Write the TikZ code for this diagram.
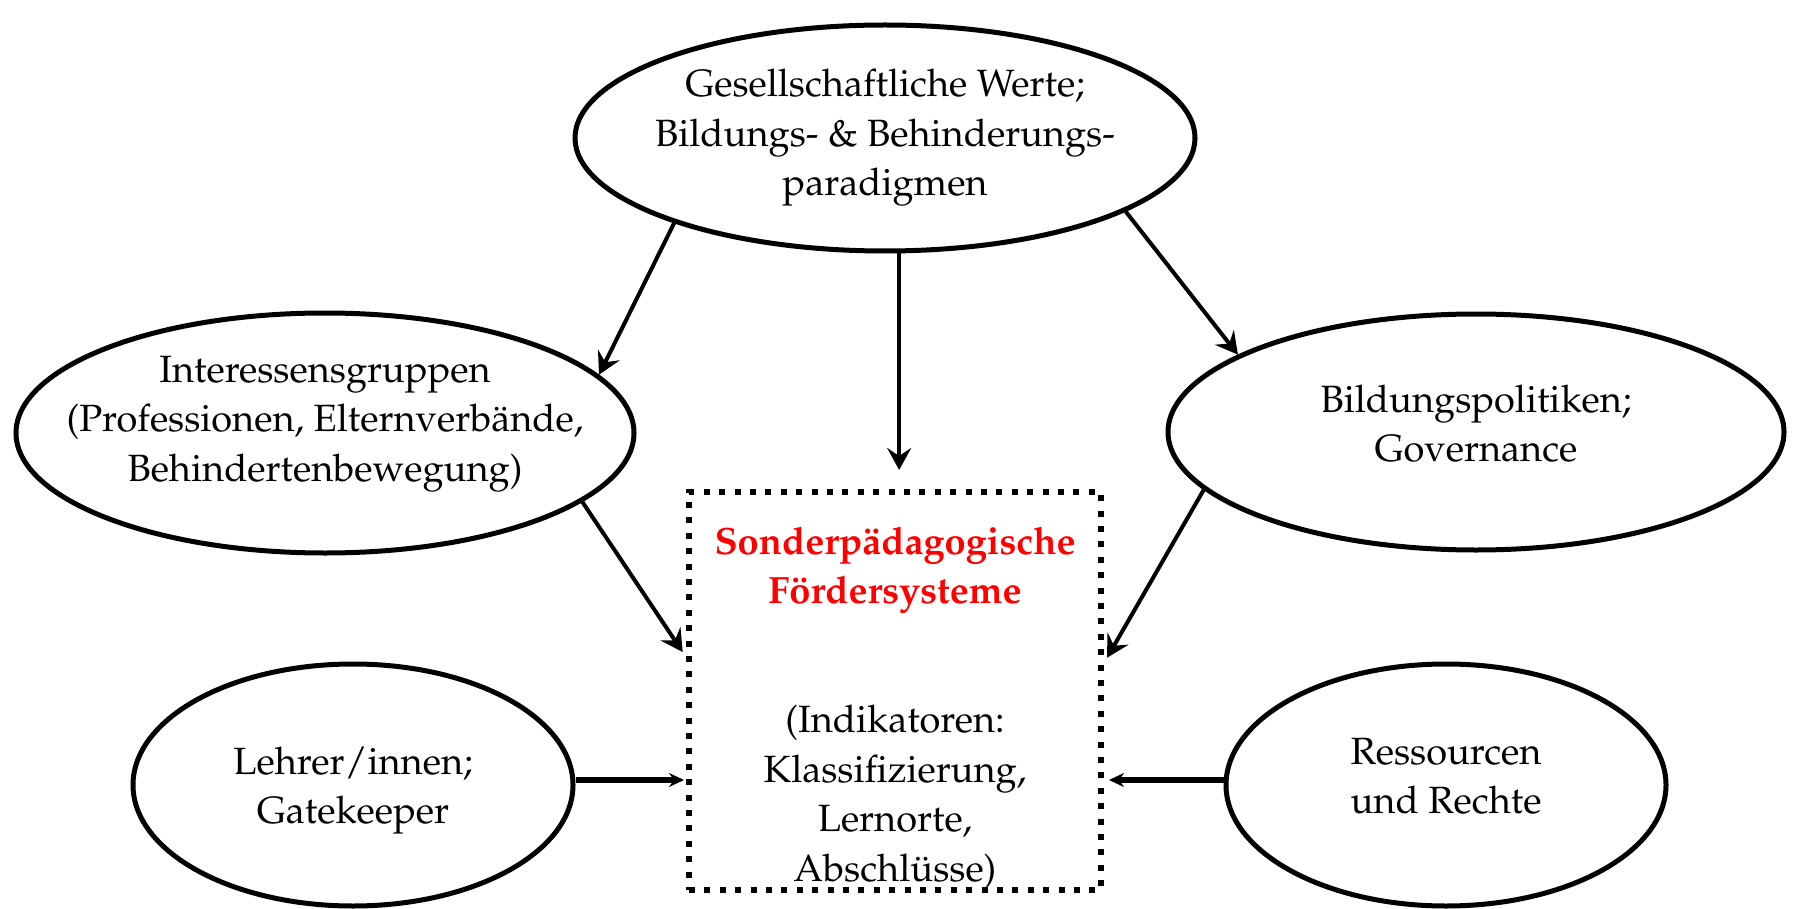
\documentclass[tikz,border=0pt]{standalone}
\usepackage[T1]{fontenc}
\usepackage{mathpazo}
\usetikzlibrary{shapes.geometric, arrows.meta}

\begin{document}
\begin{tikzpicture}[x=0.5pt,y=-0.5pt,->,>={Stealth[length=11pt,width=12pt,inset=4pt]},
            line width=2pt,font=\fontsize{19}{24.7}\selectfont]
            \tikzstyle{factor}=[ellipse,draw,line width=2.5pt,inner xsep=-40pt,inner ysep=0pt,
              align=center]
            \tikzstyle{system}=[rectangle,draw,line width=3pt,dash pattern=on 3pt off 4.7pt,
              inner sep=0pt,align=center]
            \tikzstyle{side}=[line width=3pt,>={Stealth[length=7.5pt,width=7pt,inset=2.5pt]}]

            \useasboundingbox (0,0) rectangle (1798,909);

            \node[factor,minimum width=310pt,minimum height=113pt] (W) at (885,138)
              {Gesellschaftliche Werte;\\Bildungs- \& Behinderungs-\\paradigmen};
            \node[factor,minimum width=309pt,minimum height=120pt] (I) at (325,433)
              {Interessensgruppen\\(Professionen, Elternverbände,\\Behindertenbewegung)\rule[-14.5pt]{0pt}{14.5pt}};
            \node[factor,minimum width=308pt,minimum height=118pt] (P) at (1476,432)
              {Bildungspolitiken;\\Governance\rule[-9pt]{0pt}{9pt}};
            \node[factor,minimum width=220pt,minimum height=121pt] (L) at (353,785)
              {\rule{0pt}{19.5pt}Lehrer/innen;\\Gatekeeper};
            \node[factor,minimum width=220pt,minimum height=121pt] (R) at (1446,785)
              {Ressourcen\\und Rechte\rule[-9pt]{0pt}{9pt}};
            \node[system,minimum width=206pt,minimum height=199pt] (S) at (895,691)
              {\rule{0pt}{30.5pt}{\color{red}\bfseries Sonderpädagogische}\\{\color{red}\bfseries Fördersysteme}\\[40pt]
               (Indikatoren:\\Klassifizierung,\\Lernorte,\\Abschlüsse)};

            \path (W.202) edge (I.12)
            (W.277) edge [shorten >=9.5pt] (W.277 |- S.north)
            (W.343) edge (P.162)

            (I.345.5) edge [shorten >=3pt] ([yshift=17pt]S.west)
            (P.192.5) edge [shorten >=3pt] ([yshift=14pt]S.east)

            ([yshift=2.5pt]L.east) edge [side,shorten >=1pt] ([yshift=2.5pt]L.east -| S.west)
            ([yshift=2.5pt]R.west) edge [side,shorten >=2.5pt] ([yshift=2.5pt]R.west -| S.east);

        \end{tikzpicture}
\end{document}
